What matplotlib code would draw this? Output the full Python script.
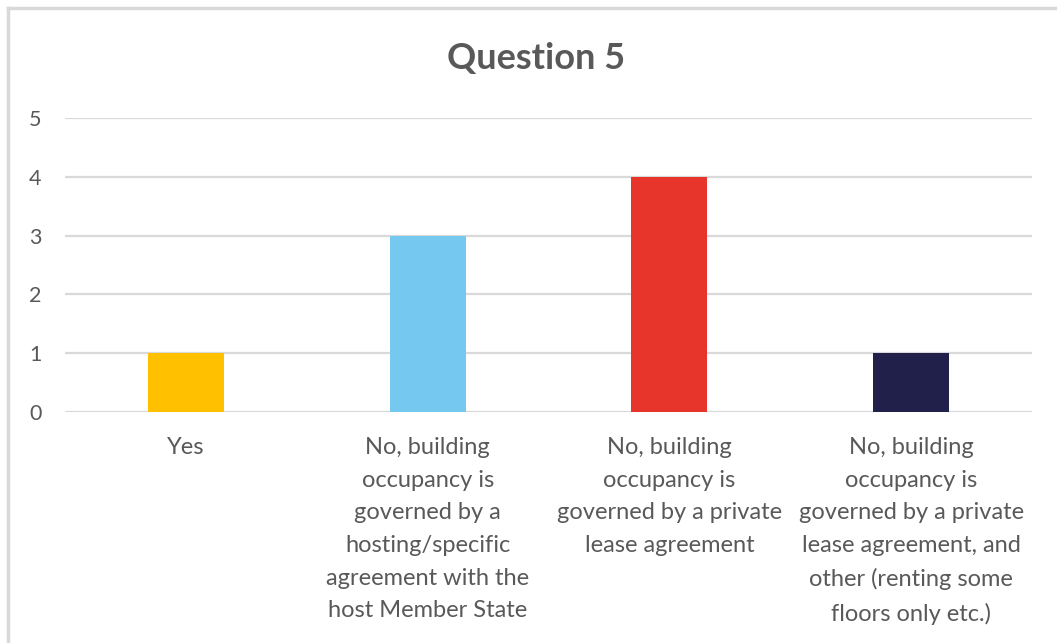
import matplotlib.pyplot as plt
from matplotlib.lines import Line2D

# data
categories = [
    "Yes",
    "No, building\noccupancy is\ngoverned by a\nhosting/specific\nagreement with the\nhost Member State",
    "No, building\noccupancy is\ngoverned by a private\nlease agreement",
    "No, building\noccupancy is\ngoverned by a private\nlease agreement, and\nother (renting some\nfloors only etc.)",
]
counts = [1, 3, 4, 1]
bar_colors = ["#FFC000", "#75C9F0", "#E8352B", "#20204A"]
yticks = [0, 1, 2, 3, 4, 5]

W, H = 1057, 643
fig = plt.figure(figsize=(W / 100, H / 100), dpi=100)
plt.rcParams["font.family"] = ["Lato", "DejaVu Sans"]
text_color = "#595959"

ax = fig.add_axes([65 / W, 1 - 412 / H, (1032 - 65) / W, (412 - 118) / H])
x = range(len(categories))
ax.bar(x, counts, width=0.315, color=bar_colors, zorder=3)
ax.set_xlim(-0.5, len(categories) - 0.5)
ax.set_ylim(0, 5)
ax.set_yticks(yticks)
ax.set_yticklabels([str(v) for v in yticks], fontsize=15.5, color=text_color)
ax.grid(axis="y", color="#D9D9D9", linewidth=1.6, zorder=0)
for s in ax.spines.values():
    s.set_visible(False)
ax.tick_params(axis="y", length=0, pad=17)
ax.tick_params(axis="x", length=0, pad=0)
ax.set_xticks(list(x))
ax.set_xticklabels([])
for i, lab in enumerate(categories):
    ax.text(i, -0.43, lab, ha="center", va="top", fontsize=17, color=text_color,
            linespacing=1.68)

fig.text(536 / W, 1 - 58 / H, "Question 5", ha="center", va="center",
         fontsize=26, fontweight="bold", color=text_color)

# chart border (left and top visible in reference)
fig.add_artist(Line2D([8 / W, 8 / W], [1 - 8 / H, 0], transform=fig.transFigure,
                      color="#D9D9D9", linewidth=2.5))
fig.add_artist(Line2D([8 / W, 1], [1 - 8 / H, 1 - 8 / H], transform=fig.transFigure,
                      color="#D9D9D9", linewidth=2.5))

fig.savefig("out.png", dpi=100)
